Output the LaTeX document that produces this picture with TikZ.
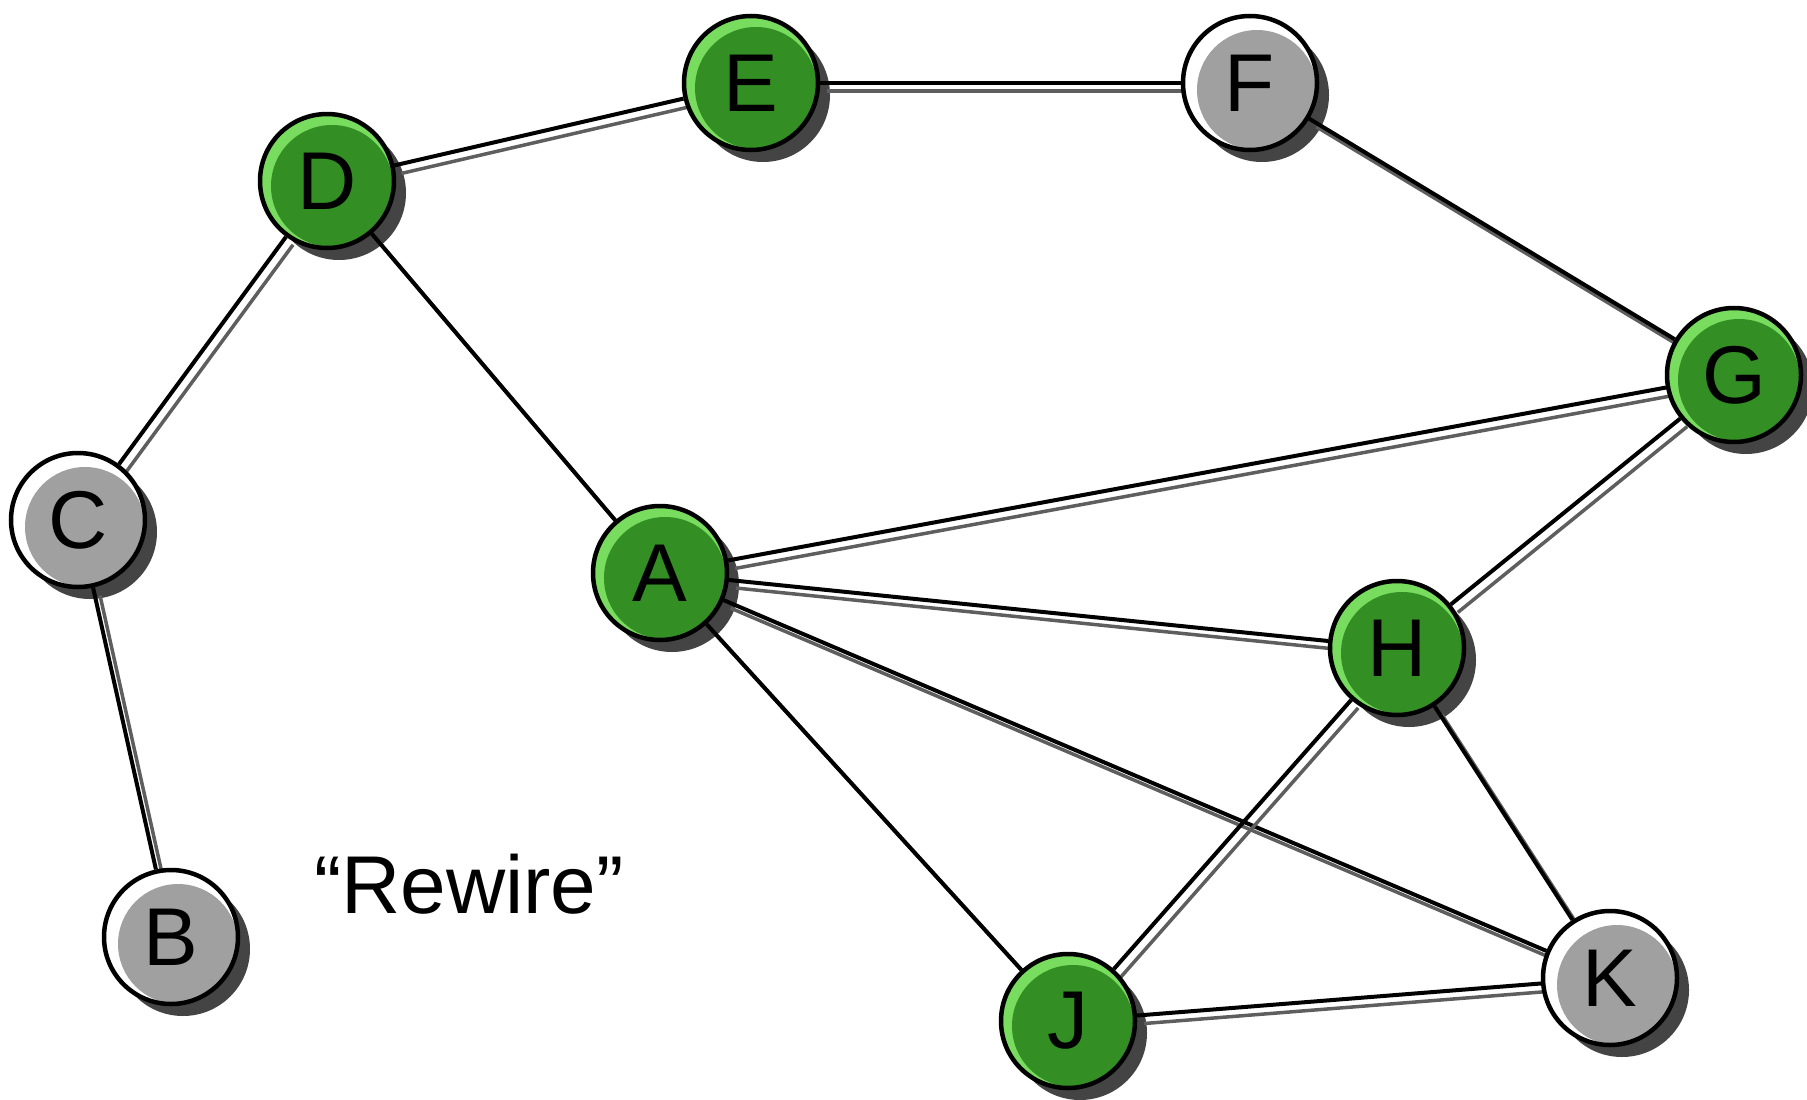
\documentclass[tikz,border=0pt]{standalone}
\usepackage{fontspec}
\setmainfont{Liberation Sans}
\usetikzlibrary{calc}
\pgfdeclarelayer{shadowlayer}
\pgfdeclarelayer{edgelayer}
\pgfsetlayers{shadowlayer,edgelayer,main}

\definecolor{greenhi}{HTML}{78DC5E}
\definecolor{greenin}{HTML}{338E24}
\definecolor{grayhi}{HTML}{FFFFFF}
\definecolor{grayin}{HTML}{A0A0A0}
\definecolor{shadowc}{HTML}{444444}
\definecolor{edgeshadowc}{HTML}{5E5E5E}

\tikzset{
  vertex/.style={circle, draw=black, line width=4.5pt, minimum size=134pt,
    inner sep=0pt, font=\fontsize{82}{82}\selectfont},
  greenvertex/.style={vertex, fill=greenhi,
    path picture={\fill[greenin] ([shift={(5pt,-5pt)}]path picture bounding box.center) circle (61pt);}},
  grayvertex/.style={vertex, fill=grayhi,
    path picture={\fill[grayin] ([shift={(7pt,-7pt)}]path picture bounding box.center) circle (60pt);}},
  nodeshadow/.style={fill=shadowc},
  edgeline/.style={draw=black, line width=4pt},
  edgeshade/.style={draw=edgeshadowc, line width=3.5pt,
    transform canvas={shift={(7pt,-8pt)}}},
  caption/.style={font=\fontsize{82}{82}\selectfont}
}

\begin{document}
\begin{tikzpicture}[x=1pt,y=-1pt]
\useasboundingbox (0,0) rectangle (1807,1100);

% vertices
\node[greenvertex] (D) at (327,181) {D};
\node[greenvertex] (E) at (751,83) {E};
\node[grayvertex]  (F) at (1250,83) {F};
\node[greenvertex] (G) at (1734,375) {G};
\node[grayvertex]  (C) at (78,520) {C};
\node[greenvertex] (A) at (660,573) {A};
\node[greenvertex] (H) at (1397,648) {H};
\node[grayvertex]  (B) at (171,937) {B};
\node[greenvertex] (J) at (1068,1021) {J};
\node[grayvertex]  (K) at (1610,978) {K};

\node[caption] (rewire) at (469,884) {“Rewire”};

% drop shadows of the vertices
\begin{pgfonlayer}{shadowlayer}
  \foreach \v in {D,E,F,G,C,A,H,B,J,K}
    \fill[nodeshadow] ([shift={(12pt,-12pt)}]\v.center) circle (67pt);
\end{pgfonlayer}

% edges with their offset shading
\begin{pgfonlayer}{edgelayer}
  \foreach \a/\b in {D/E, E/F, F/G, D/C, C/B, D/A, A/G, A/H, A/K, A/J,
                     G/H, H/J, H/K, J/K} {
    \draw[edgeshade] (\a) -- (\b);
    \draw[edgeline] (\a) -- (\b);
  }
\end{pgfonlayer}
\end{tikzpicture}
\end{document}
